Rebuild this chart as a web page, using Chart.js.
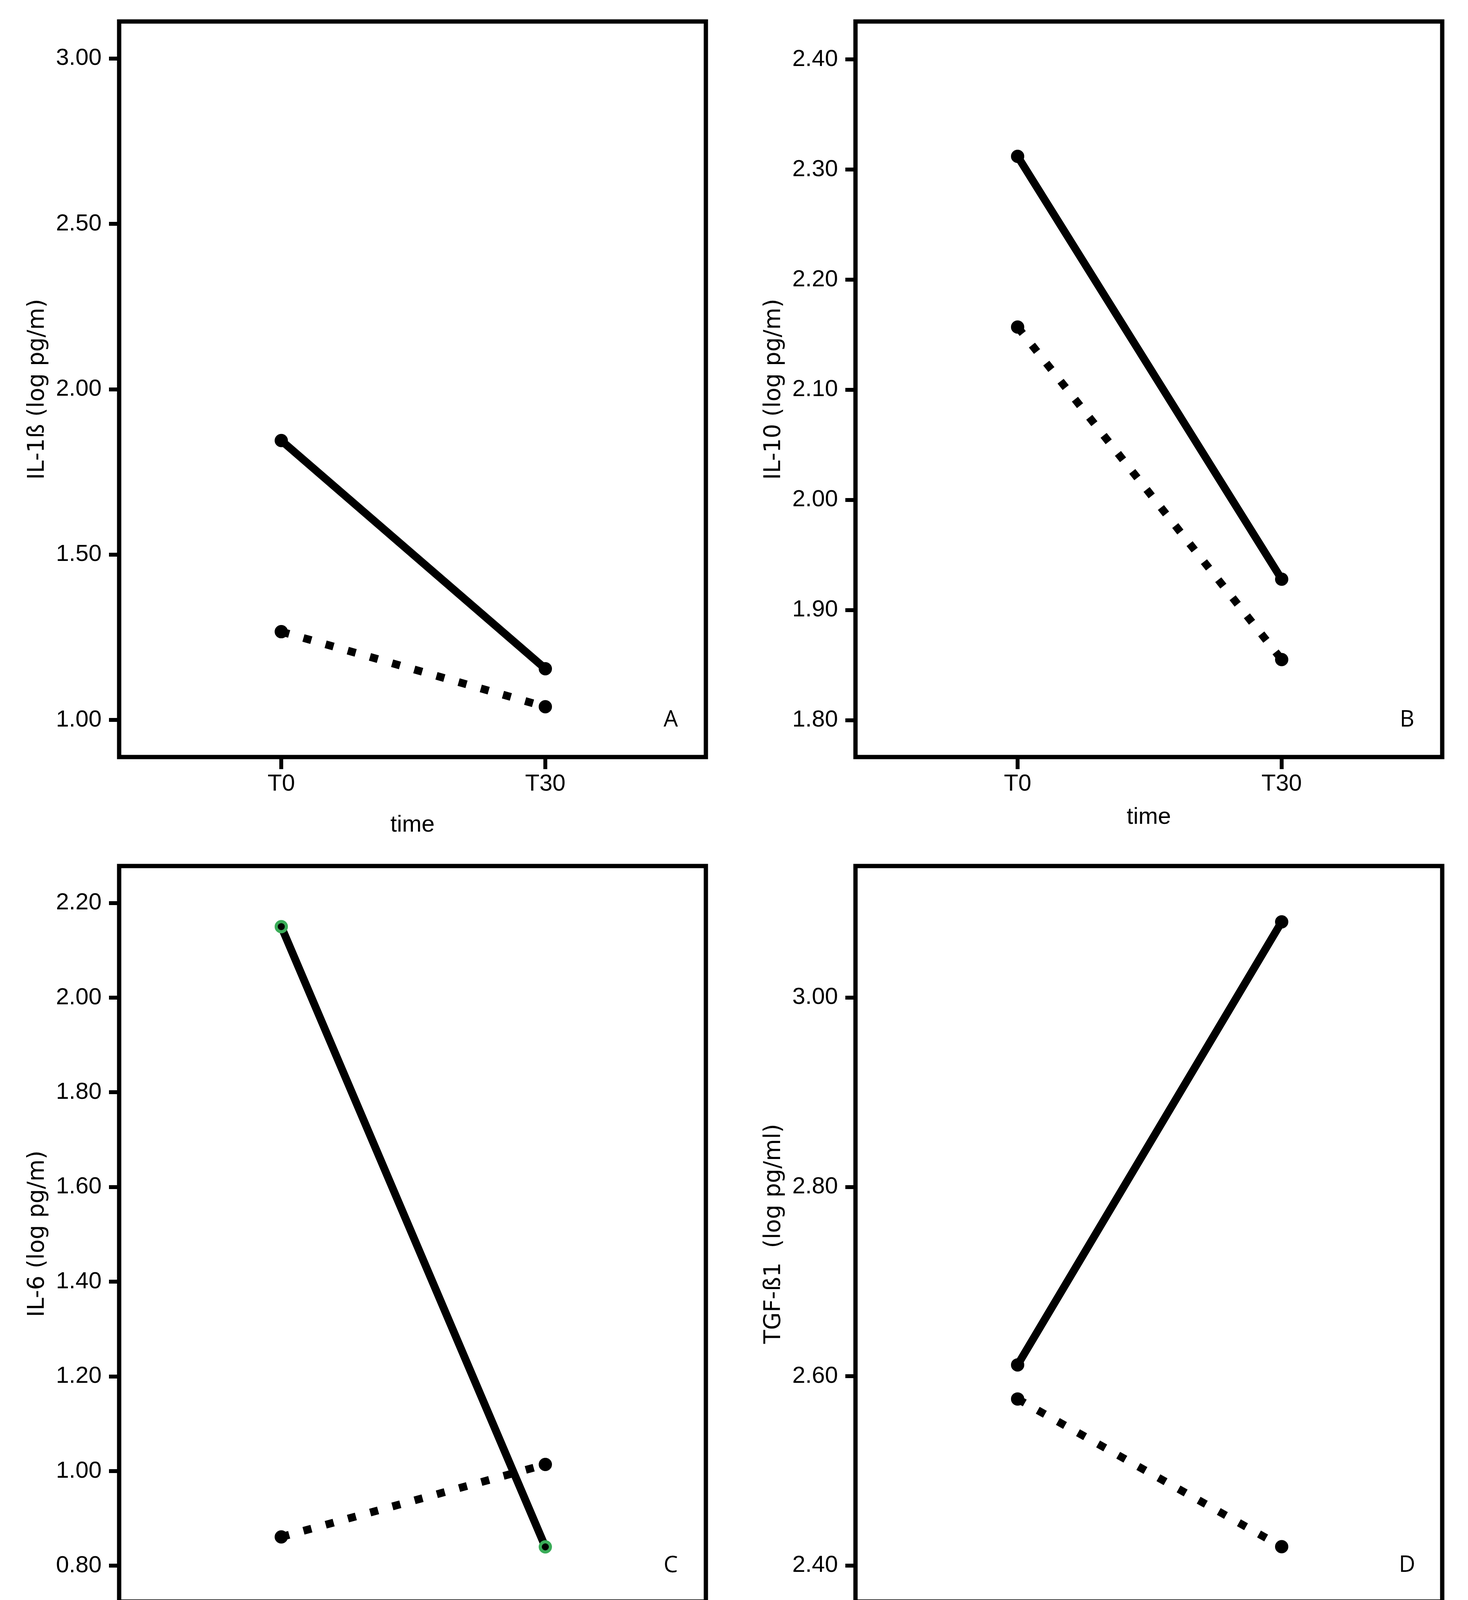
<!DOCTYPE html>
<html><head><meta charset="utf-8">
<script src="https://cdn.jsdelivr.net/npm/chart.js@4.4.1/dist/chart.umd.min.js"></script>
<style>
html,body{margin:0;padding:0;background:#fff;}
body{width:3758px;height:4494px;position:relative;overflow:hidden;}
canvas{position:absolute;}
.leg{position:absolute;font-family:'Open Sans',sans-serif;font-size:58px;line-height:80px;white-space:pre;color:#000;}
.sw{position:absolute;background:#000;}
</style></head><body>
<canvas id="cA" width="1900" height="2168" style="left:0px;top:0px"></canvas>
<canvas id="cB" width="1900" height="2168" style="left:1885px;top:0px"></canvas>
<canvas id="cC" width="1900" height="2168" style="left:0px;top:2162px"></canvas>
<canvas id="cD" width="1900" height="2168" style="left:1885px;top:2162px"></canvas>
<div id="legend"></div>
<script>
// ---- data ----
const timeLabels = ['T0', 'T30'];
const seriesNames = ['T  newborns', 'C  newborns'];
const panelLetters = ['A', 'B', 'C', 'D'];
const yTitles = ['IL-1ß (log pg/m)', 'IL-10 (log pg/m)', 'IL-6 (log pg/m)', 'TGF-ß1  (log pg/ml)'];
const xTitle = 'time';

const tA = [1.845, 1.155];
const cA = [1.267, 1.040];
const tB = [2.312, 1.928];
const cB = [2.157, 1.855];
const tC = [2.150, 0.840];
const cC = [0.861, 1.014];
const tD = [2.612, 3.080];
const cD = [2.576, 2.420];

const ticksA = [1.00, 1.50, 2.00, 2.50, 3.00];
const ticksB = [1.80, 1.90, 2.00, 2.10, 2.20, 2.30, 2.40];
const ticksC = [0.80, 1.00, 1.20, 1.40, 1.60, 1.80, 2.00, 2.20];
const ticksD = [2.40, 2.60, 2.80, 3.00];

const rangeA = [0.888, 3.112];
const rangeB = [1.7665, 2.4345];
const rangeC = [0.7245, 2.278];
const rangeD = [2.362, 3.139];

// ---- styles ----
const TICK_FONT = {family: "'Liberation Sans Narrow', 'Liberation Sans', sans-serif", size: 60};
const YTITLE_FONT = {family: "'DejaVu Sans', sans-serif", size: 58};
const XTITLE_FONT = {family: "'Liberation Sans', sans-serif", size: 60};
const GREEN = 'rgb(58,172,88)';

const framePlugin = {
  id: 'frame',
  afterDraw(chart, args, opts) {
    const {ctx, chartArea: a, scales} = chart;
    ctx.save();
    ctx.strokeStyle = '#000';
    ctx.lineWidth = 11;
    ctx.strokeRect(a.left, a.top, a.right - a.left, a.bottom - a.top);
    ctx.fillStyle = '#000';
    ctx.font = "58px 'Open Sans', sans-serif";
    ctx.textAlign = 'center';
    ctx.textBaseline = 'middle';
    ctx.fillText(opts.letter, a.right - 90, scales.y.getPixelForValue(opts.baseTick));
    ctx.restore();
  }
};

function makePanel(id, tVals, cVals, yTicks, range, yTitle, letter, xTitlePad, tPointColor) {
  const toPts = vals => vals.map((v, i) => ({x: i, y: v}));
  new Chart(document.getElementById(id), {
    type: 'line',
    data: {
      datasets: [
        {
          label: seriesNames[0], data: toPts(tVals),
          borderColor: '#000', borderWidth: 20, borderCapStyle: 'butt',
          pointRadius: 13, pointBorderWidth: 8,
          pointBackgroundColor: '#000', pointBorderColor: tPointColor,
          tension: 0
        },
        {
          label: seriesNames[1], data: toPts(cVals),
          borderColor: '#000', borderWidth: 20, borderDash: [21, 38], borderCapStyle: 'butt',
          pointRadius: 13, pointBorderWidth: 8,
          pointBackgroundColor: '#000', pointBorderColor: '#000',
          tension: 0
        }
      ]
    },
    options: {
      responsive: false, animation: false, devicePixelRatio: 1,
      layout: {autoPadding: false, padding: {top: 55, right: 93, bottom: 0, left: 0}},
      plugins: {legend: {display: false}, tooltip: {enabled: false}, frame: {letter: letter, baseTick: yTicks[0]}},
      scales: {
        x: {
          type: 'linear', position: 'bottom', min: -0.614, max: 1.608,
          afterBuildTicks: ax => { ax.ticks = timeLabels.map((_, i) => ({value: i})); },
          afterFit: ax => { ax.height = 230; },
          ticks: {callback: v => timeLabels[v], font: TICK_FONT, color: '#000', padding: 2, maxRotation: 0, autoSkip: false},
          grid: {display: true, drawOnChartArea: false, drawTicks: true, tickLength: 31, tickWidth: 10, tickColor: '#000', color: '#000', lineWidth: 10},
          border: {display: false},
          title: {display: true, text: xTitle, font: XTITLE_FONT, color: '#000', padding: {top: 0, bottom: xTitlePad}}
        },
        y: {
          type: 'linear', position: 'left', min: range[0], max: range[1],
          afterBuildTicks: ax => { ax.ticks = yTicks.map(v => ({value: v})); },
          afterFit: ax => { ax.width = 305; },
          ticks: {callback: v => Number(v).toFixed(2), font: TICK_FONT, color: '#000', padding: 19, autoSkip: false},
          grid: {display: true, drawOnChartArea: false, drawTicks: true, tickLength: 26, tickWidth: 10, tickColor: '#000', color: '#000', lineWidth: 10},
          border: {display: false},
          title: {display: true, text: yTitle, font: YTITLE_FONT, color: '#000', padding: {top: 62, bottom: 0}}
        }
      }
    },
    plugins: [framePlugin]
  });
}

makePanel('cA', tA, cA, ticksA, rangeA, yTitles[0], panelLetters[0], 20, '#000');
makePanel('cB', tB, cB, ticksB, rangeB, yTitles[1], panelLetters[1], 40, '#000');
makePanel('cC', tC, cC, ticksC, rangeC, yTitles[2], panelLetters[2], 40, GREEN);
makePanel('cD', tD, cD, ticksD, rangeD, yTitles[3], panelLetters[3], 40, '#000');

// ---- legend (HTML) ----
const leg = document.getElementById('legend');
function add(html) { leg.insertAdjacentHTML('beforeend', html); }
add('<div class="sw" style="left:1382px;top:4417px;width:127px;height:21px"></div>');
add('<div class="leg" style="left:1524px;top:4387px">' + seriesNames[0] + '</div>');
[2058, 2117, 2176].forEach(x => add('<div class="sw" style="left:' + x + 'px;top:4412px;width:21px;height:21px"></div>'));
add('<div class="leg" style="left:2234px;top:4387px">' + seriesNames[1] + '</div>');
</script>
</body></html>
